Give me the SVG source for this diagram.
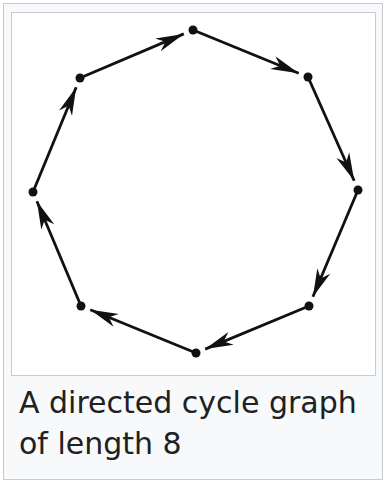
<svg xmlns="http://www.w3.org/2000/svg" width="384" height="481" viewBox="0 0 384 481">
<defs>
<style>
.frame{fill:#f8f9fa;stroke:#c8ccd1;stroke-width:1}
.img{fill:#ffffff;stroke:#c8ccd1;stroke-width:1}
.edge{stroke:#111;stroke-width:2.8;fill:none;marker-end:url(#arr)}
.node{fill:#111}
.cap{font-family:"DejaVu Sans",sans-serif;font-size:30px;fill:#202122}
</style>
<marker id="arr" markerUnits="userSpaceOnUse" markerWidth="32" markerHeight="18" viewBox="-30 -9 32 18" refX="0" refY="0" orient="auto">
<path d="M0,0 L-28,-7 L-20,0 L-28,7 Z" fill="#111"/>
</marker>
</defs>
<rect class="frame" x="3.5" y="3.5" width="379" height="476"/>
<rect class="img" x="11.5" y="12.5" width="364" height="363"/>
<g id="edges">
<line class="edge" x1="80" y1="78" x2="183.8" y2="33.9"/>
<line class="edge" x1="193" y1="30" x2="298.7" y2="73.2"/>
<line class="edge" x1="308" y1="77" x2="354.2" y2="180.8"/>
<line class="edge" x1="358" y1="190" x2="312.9" y2="296.8"/>
<line class="edge" x1="309" y1="306" x2="205.2" y2="349.1"/>
<line class="edge" x1="196" y1="353" x2="90.3" y2="309.8"/>
<line class="edge" x1="81" y1="306" x2="36.9" y2="201.2"/>
<line class="edge" x1="33" y1="192" x2="76.2" y2="87.2"/>
</g>
<g id="n1"><circle class="node" cx="193" cy="30" r="4.5"/></g>
<g id="n2"><circle class="node" cx="308" cy="77" r="4.5"/></g>
<g id="n3"><circle class="node" cx="358" cy="190" r="4.5"/></g>
<g id="n4"><circle class="node" cx="309" cy="306" r="4.5"/></g>
<g id="n5"><circle class="node" cx="196" cy="353" r="4.5"/></g>
<g id="n6"><circle class="node" cx="81" cy="306" r="4.5"/></g>
<g id="n7"><circle class="node" cx="33" cy="192" r="4.5"/></g>
<g id="n8"><circle class="node" cx="80" cy="78" r="4.5"/></g>
<g id="caption">
<text class="cap" x="19" y="413">A directed cycle graph</text>
<text class="cap" x="19" y="454">of length 8</text>
</g>
</svg>
